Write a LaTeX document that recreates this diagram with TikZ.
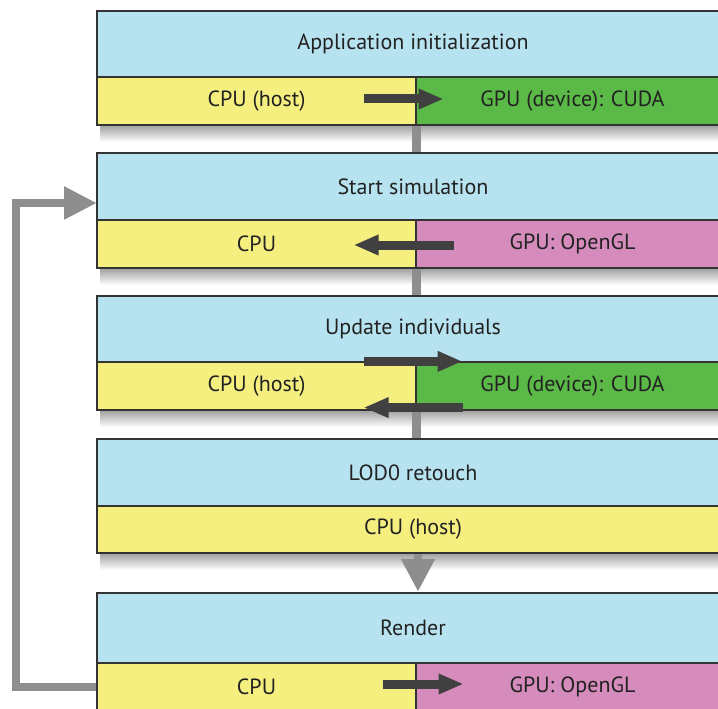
\documentclass[tikz,border=0pt]{standalone}
\usepackage{fontspec}
\setmainfont{PT Sans}
\usetikzlibrary{arrows.meta}
\definecolor{cblue}{HTML}{B7E2EF}
\definecolor{cyellow}{HTML}{F5EF80}
\definecolor{cgreen}{HTML}{5BB947}
\definecolor{cpink}{HTML}{D58CBC}
\definecolor{cgray}{HTML}{8E8E8E}
\definecolor{cdark}{HTML}{404040}
\definecolor{cborder}{HTML}{333333}
\definecolor{ctext}{HTML}{222222}
\begin{document}
\begin{tikzpicture}[x=1pt,y=-1pt,
  cell/.style={draw=cborder, line width=1.2pt, inner sep=0pt, text=ctext,
    font=\fontsize{22}{24}\selectfont, anchor=center},
  titlebox/.style={cell, fill=cblue, minimum width=632pt},
  lcell/.style={cell, fill=cyellow, minimum width=319pt, minimum height=48pt},
  fullcell/.style={cell, fill=cyellow, minimum width=632pt, minimum height=47pt},
  gcell/.style={cell, fill=cgreen, minimum width=313pt, minimum height=48pt},
  pcell/.style={cell, fill=cpink, minimum width=313pt, minimum height=48pt},
  conn/.style={draw=cgray, line width=8.5pt, line join=miter},
  darr/.style={draw=cdark, line width=9pt, -{Triangle[width=19pt,length=25pt]}},
  boxshadow/.style={top color=black!38, bottom color=white}]
\clip (0,0) rectangle (718,709);
\fill[white] (0,0) rectangle (718,709);
% shadows
\foreach \b in {125,268,410,553} {\shade[boxshadow] (100,\b) rectangle (729,\b+17);}
% boxes
\node[titlebox, minimum height=66pt] (t1) at (413,44) {Application initialization};
\node[lcell] (l1) at (256.5,101) {CPU (host)};
\node[gcell] (r1) at (572.5,101) {GPU (device): CUDA};

\node[titlebox, minimum height=67pt] (t2) at (413,186.5) {Start simulation};
\node[lcell] (l2) at (256.5,244) {CPU};
\node[pcell] (r2) at (572.5,244) {GPU: OpenGL};

\node[titlebox, minimum height=66pt] (t3) at (413,329) {Update individuals};
\node[lcell] (l3) at (256.5,386) {CPU (host)};
\node[gcell] (r3) at (572.5,386) {GPU (device): CUDA};

\node[titlebox, minimum height=67pt] (t4) at (413,472.5) {LOD0 retouch};
\node[fullcell] (c4) at (413,529.5) {CPU (host)};

\node[titlebox, minimum height=70pt] (t5) at (413,628) {Render};
\node[lcell] (l5) at (256.5,687) {CPU};
\node[pcell] (r5) at (572.5,687) {GPU: OpenGL};

% vertical connectors
\draw[conn] ([yshift=-0.6pt]l1.south east) -- ([yshift=0.6pt]l1.south east |- t2.north);
\draw[conn] ([yshift=-0.6pt]l2.south east) -- ([yshift=0.6pt]l2.south east |- t3.north);
\draw[conn] ([yshift=-0.6pt]l3.south east) -- ([yshift=0.6pt]l3.south east |- t4.north);
\draw[conn, -{Triangle[width=32pt,length=33pt]}] ([xshift=5pt,yshift=-0.6pt]c4.south) -- ([xshift=5pt,yshift=0.6pt]c4.south |- t5.north);
% loop back
\coordinate (loopx) at (16,0);
\coordinate (tgt) at (97,203);
\draw[conn, -{Triangle[width=31pt,length=33pt]}] (l5.west) -- (l5.west -| loopx) -- (loopx |- tgt) -- (tgt);
% dark data-transfer arrows
\draw[darr] ([xshift=-53pt,yshift=2pt]l1.east) -- ([xshift=27pt,yshift=2pt]l1.east);
\draw[darr] ([xshift=37pt,yshift=-1pt]l2.east) -- ([xshift=-63pt,yshift=-1pt]l2.east);
\draw[darr] ([xshift=-53pt]l3.north east) -- ([xshift=46pt]l3.north east);
\draw[darr] ([xshift=46pt,yshift=3pt]l3.south east) -- ([xshift=-53pt,yshift=3pt]l3.south east);
\draw[darr] ([xshift=-34pt,yshift=3pt]l5.east) -- ([xshift=47pt,yshift=3pt]l5.east);
\end{tikzpicture}
\end{document}
